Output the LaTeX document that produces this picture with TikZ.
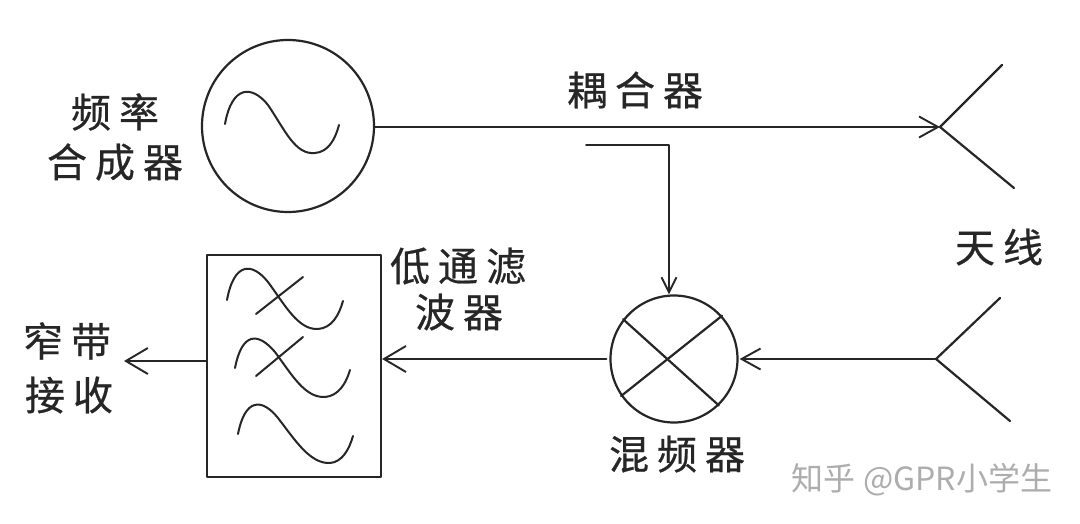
\documentclass[tikz,border=0pt]{standalone}
\usepackage{fontspec}
\setmainfont{Noto Sans CJK SC}
\newfontfamily\labfont[LetterSpace=20,FakeBold=0.6]{Noto Sans CJK SC}
\newfontfamily\markfont{Noto Sans CJK SC}
\usetikzlibrary{arrows.meta}
\tikzset{
 wire/.style={line width=2.2pt,draw=black!85},
 thinwire/.style={line width=1.7pt,draw=black!85},
 bigbarb/.style={-{Straight Barb[length=22pt,width=26pt,line width=1.9pt]}},
 midbarb/.style={-{Straight Barb[length=19pt,width=21pt,line width=1.9pt]}},
 smallbarb/.style={-{Straight Barb[length=15pt,width=15pt,line width=1.9pt]}},
 lab/.style={font=\labfont\fontsize{40pt}{50pt}\selectfont,align=center,inner sep=0pt,text=black!85},
 wavecurve/.style={line width=2pt,draw=black!85},
}
\begin{document}
\begin{tikzpicture}[x=1pt,y=-1pt,line cap=round,line join=round]
\useasboundingbox (0,0) rectangle (1080,524);
\fill[white] (0,0) rectangle (1080,524);
% synthesizer
\node[circle,wire,draw,minimum size=172pt,inner sep=0pt] (syn) at (288,126) {};
\draw[wavecurve] (225,124) .. controls (232,85) and (252,85) .. (268,105) .. controls (285,130) and (295,155) .. (315,153) .. controls (328,152) and (335,140) .. (339,125);
\node[lab] (synl1) at (115,112) {频率};
\node[lab] (synl2) at (115,162) {合成器};
% antenna top
\coordinate (a1) at (940,127);
\coordinate (a1u) at (1002,65);
\coordinate (a1d) at (1014,188);
\draw[thinwire,midbarb] (syn.east |- a1) -- (a1);
\draw[wire] (a1u) -- (a1) -- (a1d);
\node[lab] (coupl) at (635,90) {耦合器};
\node[lab] (antl) at (999,247) {天线};
% coupler line
\coordinate (c0) at (586,145);
\coordinate (c1) at (669,145);
% mixer
\node[circle,wire,draw,minimum size=127pt,inner sep=0pt] (mix) at (674,359) {};
\draw[wire] (mix.42) -- (mix.215);
\draw[wire] (mix.142) -- (mix.314);
\draw[thinwire,smallbarb] (c0) -- (c1) -- (c1 |- mix.north);
\node[lab] (mixl) at (677,454) {混频器};
% antenna bottom
\coordinate (a2) at (936,359);
\coordinate (a2u) at (1000,298);
\coordinate (a2d) at (1010,421);
\draw[wire] (a2u) -- (a2) -- (a2d);
\draw[wire,midbarb] (a2) -- ([xshift=1pt]mix.east |- a2);
% filter
\node[rectangle,wire,draw,minimum width=174pt,minimum height=222pt,inner sep=0pt] (lpf) at (294,366) {};
\coordinate (mixout) at ([xshift=-3pt]mix.west);
\draw[wire,bigbarb] (mixout) -- (lpf.east |- mixout);
\coordinate (out) at (124,361);
\draw[thinwire,bigbarb] (lpf.west |- out) -- (out);
\node[lab] (lpfl1) at (458,266) {低通滤};
\node[lab] (lpfl2) at (459,312) {波器};
\node[lab] (outl1) at (67,341) {窄带};
\node[lab] (outl2) at (69,395) {接收};
% filter curves
\draw[wavecurve] (227,300) .. controls (234,262) and (252,262) .. (268,282) .. controls (285,305) and (298,330) .. (318,329) .. controls (332,328) and (339,315) .. (343,301);
\draw[wavecurve] (256,314) -- (303,277);
\draw[wavecurve] (235,368) .. controls (242,332) and (258,332) .. (275,352) .. controls (292,375) and (305,398) .. (325,397) .. controls (338,396) and (346,384) .. (350,370);
\draw[wavecurve] (256,376) -- (303,337);
\draw[wavecurve] (238,434) .. controls (245,398) and (262,398) .. (278,418) .. controls (295,440) and (310,464) .. (330,463) .. controls (342,462) and (349,450) .. (353,436);
% watermark
\node[font=\markfont\fontsize{32pt}{36pt}\selectfont,text=black!32,inner sep=0pt] (wm) at (922,480) {知乎 @GPR小学生};
\end{tikzpicture}
\end{document}
